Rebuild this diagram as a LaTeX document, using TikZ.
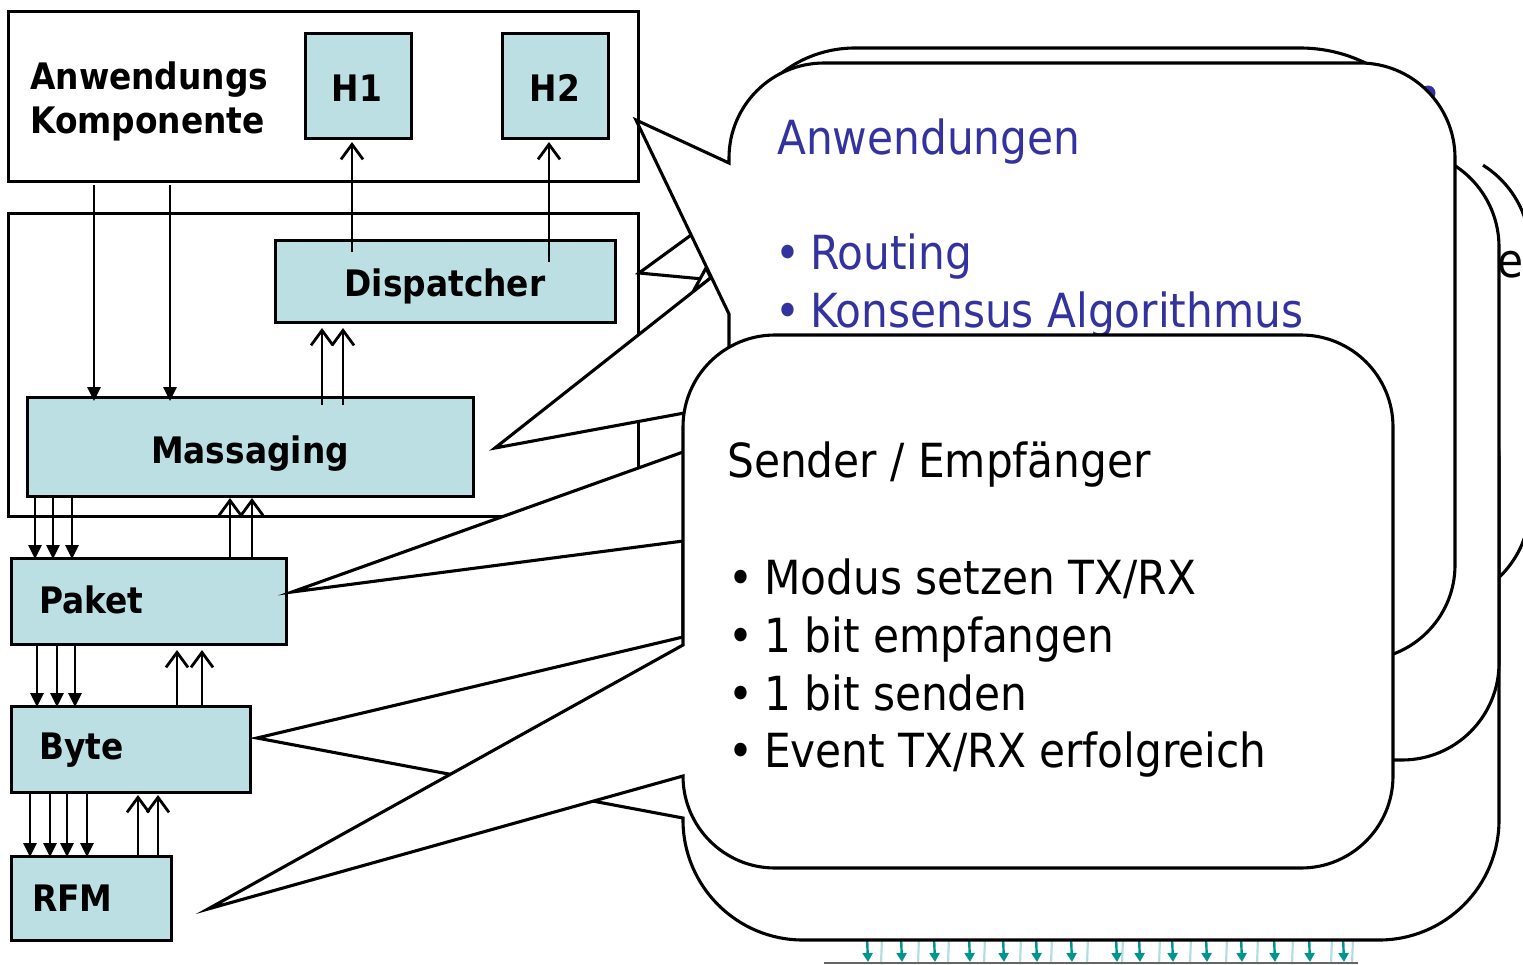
\documentclass[tikz,border=0pt]{standalone}
\usepackage{fontspec}
\setmainfont{DejaVu Sans Condensed}
\usetikzlibrary{arrows.meta,calc}

\definecolor{layerfill}{RGB}{188,223,227}
\definecolor{noteblue}{RGB}{51,51,160}
\definecolor{busarrow}{RGB}{0,150,142}
\definecolor{busline}{RGB}{176,222,226}
\definecolor{busbase}{RGB}{100,100,100}

% rounded callout: L T R B radius, tail base y1, tail tip, tail base y2, style
\newcommand\roundcallout[9]{%
  \path[#9] (#1,#6) -- (#7) -- (#1,#8) -- (#1,#4-#5)
    arc[start angle=180,end angle=90,radius=#5] -- (#3-#5,#4)
    arc[start angle=90,end angle=0,radius=#5] -- (#3,#2+#5)
    arc[start angle=0,end angle=-90,radius=#5] -- (#1+#5,#2)
    arc[start angle=-90,end angle=-180,radius=#5] -- cycle;}

\begin{document}
\begin{tikzpicture}[x=1pt,y=-1pt,
  frame/.style={draw=black,line width=3pt,inner sep=0pt,outer sep=0pt,anchor=north west},
  layer/.style={frame,fill=layerfill},
  lbl/.style={font=\fontsize{36.5}{40}\selectfont\bfseries,inner sep=0pt},
  note/.style={font=\fontsize{47}{56}\selectfont,inner sep=0pt},
  down/.style={line width=2.8pt,-{Triangle[length=14pt,width=13pt]}},
  up/.style={line width=2.8pt,-{Straight Barb[length=15pt,width=22pt]}},
  callout/.style={fill=white,draw=black,line width=3.1pt,line join=miter},
  bus/.style={draw=busarrow,line width=2.4pt,-{Triangle[length=9pt,width=10pt]}},
]
\useasboundingbox (0,0) rectangle (1523,964);

% ---- component stack ----
\node[frame,minimum width=630pt,minimum height=170pt] (app) at (8,11) {};
\node[frame,minimum width=630pt,minimum height=303pt] (mid) at (8,213) {};
\node[layer,minimum width=106pt,minimum height=105pt] (h1) at (305,33) {};
\node[layer,minimum width=106pt,minimum height=105pt] (h2) at (502,33) {};
\node[layer,minimum width=340pt,minimum height=82pt] (disp) at (275,240) {};
\node[layer,minimum width=446pt,minimum height=99pt] (msg) at (27,397) {};
\node[layer,minimum width=275pt,minimum height=86pt] (pkt) at (11,558) {};
\node[layer,minimum width=239pt,minimum height=86pt] (byte) at (11,706) {};
\node[layer,minimum width=160pt,minimum height=84pt] (rfm) at (11,856) {};

\node[lbl,anchor=base west] (appA) at (30,89) {Anwendungs};
\node[lbl,anchor=base west] (appB) at (30,133) {Komponente};
\node[lbl,anchor=base] (h1t) at (357,101) {H1};
\node[lbl,anchor=base] (h2t) at (555,101) {H2};
\node[lbl,anchor=base] (dispt) at (445,296) {Dispatcher};
\node[lbl,anchor=base] (msgt) at (250,463) {Massaging};
\node[lbl,anchor=base west] (pktt) at (39,613) {Paket};
\node[lbl,anchor=base west] (bytet) at (39,759) {Byte};
\node[lbl,anchor=base west] (rfmt) at (32,911) {RFM};

% ---- data paths ----
\draw[down] ($(app.south west)+(86,4)$) -- ($(msg.north west)+(67,4)$);
\draw[down] ($(app.south west)+(162,4)$) -- ($(msg.north west)+(143,4)$);
\draw[up] ($(disp.north west)+(77,12)$) -- ($(h1.south west)+(47,4)$);
\draw[up] ($(disp.north west)+(274,22)$) -- ($(h2.south west)+(47,4)$);
\draw[up] ($(msg.north west)+(295,8)$) -- ($(disp.south west)+(47,6)$);
\draw[up] ($(msg.north west)+(316,8)$) -- ($(disp.south west)+(68,6)$);
\foreach \dx/\ex in {8/24,26/42,45/61}
  \draw[down] ($(msg.south west)+(\dx,0)$) -- ($(pkt.north west)+(\ex,1)$);
\foreach \dx/\ex in {219/203,241/225}
  \draw[up] ($(pkt.north west)+(\dx,0)$) -- ($(msg.south west)+(\ex,2)$);
\foreach \dx in {26,46,64}
  \draw[down] ($(pkt.south west)+(\dx,0)$) -- ($(byte.north west)+(\dx,1)$);
\foreach \dx in {166,191}
  \draw[up] ($(byte.north west)+(\dx,0)$) -- ($(pkt.south west)+(\dx,6)$);
\foreach \dx in {19,39,56,76}
  \draw[down] ($(byte.south west)+(\dx,0)$) -- ($(rfm.north west)+(\dx,1)$);
\foreach \dx in {127,147}
  \draw[up] ($(rfm.north west)+(\dx,0)$) -- ($(byte.south west)+(\dx,3)$);

% ---- bus below the radio note ----
\foreach \bx in {882,919,949,985,1021,1052,1088,1123,1160,1191,1227,1258,1293,1332,1353}
  \draw[busline,line width=2.2pt] (\bx,938) -- (\bx-1,964);
\foreach \bx in {867,901,934,969,1003,1036,1071,1116,1139,1172,1206,1241,1274,1309,1343}
  \draw[bus] (\bx,936) -- (\bx+1,962);
\draw[busbase,line width=1.4pt] (824,963) -- (1358,963);

% ---- tail tips ----
\coordinate (tipH) at ($(app.east)+(-2,24)$);
\coordinate (tipD) at ($(mid.north east)+(1,60)$);
\coordinate (tipM) at ($(msg.east)+(22,1.5)$);
\coordinate (tipP) at ($(pkt.east)+(6,-9)$);
\coordinate (tipB) at ($(byte.east)+(7,-11)$);
\coordinate (tipR) at ($(rfm.east)+(37,11)$);

% ---- notes, back to front ----
% dispatcher note
\path[callout] (735,203) -- (tipD) -- (735,282) -- (735,520)
  arc[start angle=180,end angle=90,radius=120] -- (1330,640)
  arc[start angle=90,end angle=0,radius=120] -- (1450,198)
  arc[start angle=0,end angle=-90,radius=150] -- (855,48)
  arc[start angle=-90,end angle=-180,radius=120] -- cycle;
\fill[noteblue] (1428,93) circle[radius=7.5];
\path[callout,line join=round] (693,291.8) -- (706,268) -- (710.8,277.8) -- cycle;

% messaging note
\fill[white] (760,239) -- (tipM) -- (760,399) -- (760,505)
  arc[start angle=180,end angle=90,radius=100] -- (1430,605)
  arc[start angle=90,end angle=0,radius=100] -- (1530,250)
  arc[start angle=0,end angle=-90,radius=100] -- (860,150)
  arc[start angle=-90,end angle=-180,radius=100] -- cycle;
\draw[line width=3.1pt] (760,239) -- (tipM) -- (760,399);
\draw[line width=3.1pt] (1483,165.2) arc[start angle=-58,end angle=0,radius=100]
  -- (1530,505) arc[start angle=0,end angle=60,radius=100];
\node[note,anchor=base west] (msgnote) at (1497,277) {e};

% byte note
\roundcallout{683}{340}{1499}{940}{120}{637}{tipB}{818}{callout}
% packet note
\roundcallout{740}{150}{1499}{760}{97}{431.6}{tipP}{533.6}{callout}

% application note
\roundcallout{729}{63}{1455}{660}{95}{163}{tipH}{314}{callout}
\node[note,text=noteblue,anchor=base west] (an0) at (777,154) {Anwendungen};
\node[note,text=noteblue,anchor=base] (anb1) at (788,269) {\textbullet};
\node[note,text=noteblue,anchor=base west] (an1) at (810,269) {Routing};
\node[note,text=noteblue,anchor=base] (anb2) at (788,327) {\textbullet};
\node[note,text=noteblue,anchor=base west] (an2) at (810,327) {Konsensus Algorithmus};

% radio note
\roundcallout{683}{335}{1393}{868}{92}{645}{tipR}{776}{callout}
\node[note,anchor=base west] (rf0) at (727,477) {Sender / Empfänger};
\foreach \yy/\txt [count=\i] in {594/Modus setzen TX\slash RX,652/1 bit empfangen,710/1 bit senden,767/Event TX\slash RX erfolgreich}{
  \node[note,anchor=base] (rfb\i) at (741,\yy) {\textbullet};
  \node[note,anchor=base west] (rf\i) at (764,\yy) {\txt};
}
\end{tikzpicture}
\end{document}
